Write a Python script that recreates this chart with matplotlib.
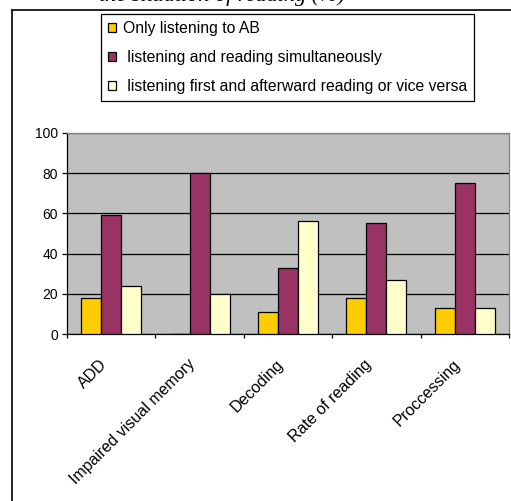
import matplotlib
matplotlib.use("Agg")
import matplotlib.pyplot as plt
from matplotlib.lines import Line2D
from matplotlib.patches import Patch
import numpy as np

plt.rcParams['font.family'] = ['Liberation Sans', 'DejaVu Sans']

categories = ["ADD", "Impaired visual memory", "Decoding", "Rate of reading", "Proccessing"]
series_names = ["Only listening to AB",
                " listening and reading simultaneously",
                " listening first and afterward reading or vice versa"]
only_listening = [18, 0, 11, 18, 13]
simultaneous = [59, 80, 33, 55, 75]
sequential = [24, 20, 56, 27, 13]
colors = ["#FFCC00", "#993366", "#FFFFCC"]
yticks = [0, 20, 40, 60, 80, 100]

W, H = 511, 501
PX = 0.72  # points per pixel at 100 dpi
fig = plt.figure(figsize=(W / 100, H / 100), dpi=100)

# outer chart frame (left and top edges)
fig.add_artist(Line2D([12 / W, 12 / W], [0, 1 - 10 / H], color="black", lw=1.2))
fig.add_artist(Line2D([12 / W, 1], [1 - 10 / H, 1 - 10 / H], color="black", lw=1.2))

# caption line above the chart
fig.text(345 / W, 1 - 1.5 / H, "the situation of reading (%)", ha="right", va="baseline",
         family="Liberation Serif", style="italic", fontsize=16)

ax = fig.add_axes([67 / W, 1 - 334 / H, (509 - 67) / W, (334 - 133) / H])
ax.set_facecolor("#C0C0C0")

x = np.arange(len(categories))
bw = 20 / 88.4
series = [only_listening, simultaneous, sequential]
for k, (vals, c, name) in enumerate(zip(series, colors, series_names)):
    ax.bar(x + (k - 1) * bw, vals, width=bw, color=c, edgecolor="black", lw=0.9,
           label=name, zorder=3)

ax.set_xlim(-0.5, len(categories) - 0.5)
ax.set_ylim(0, 100)
ax.set_yticks(yticks)
ax.set_yticklabels([str(v) for v in yticks], fontsize=10)
ax.yaxis.grid(True, color="black", lw=0.9, zorder=1)
ax.set_axisbelow(True)

ax.set_xticks(np.arange(len(categories) + 1) - 0.5)
ax.set_xticklabels([])
ax.tick_params(axis="x", direction="out", length=4 * PX, width=0.9)
ax.tick_params(axis="y", direction="out", length=5 * PX, width=0.9, pad=4 * PX)

for s in ["top", "right"]:
    ax.spines[s].set_color("#808080")
    ax.spines[s].set_linewidth(0.9)
for s in ["left", "bottom"]:
    ax.spines[s].set_color("black")
    ax.spines[s].set_linewidth(0.9)

for i, cat in enumerate(categories):
    ax.annotate(cat, xy=(i, 0), xycoords=("data", "axes fraction"),
                xytext=(-7 * PX, -28 * PX), textcoords="offset points",
                rotation=45, ha="right", va="center", rotation_mode="anchor",
                fontsize=11.5)

handles = [Patch(facecolor=c, edgecolor="black", lw=0.9) for c in colors]
leg = fig.legend(handles, series_names, loc="upper left",
                 bbox_to_anchor=(101 / W, 1 - 14 / H), fontsize=11.3,
                 frameon=True, fancybox=False, framealpha=1, edgecolor="black",
                 handlelength=0.5, handleheight=0.5, handletextpad=0.42,
                 labelspacing=0.88, borderpad=0.47, borderaxespad=0)
leg.get_frame().set_linewidth(0.9)

fig.savefig("out.png", dpi=100)
